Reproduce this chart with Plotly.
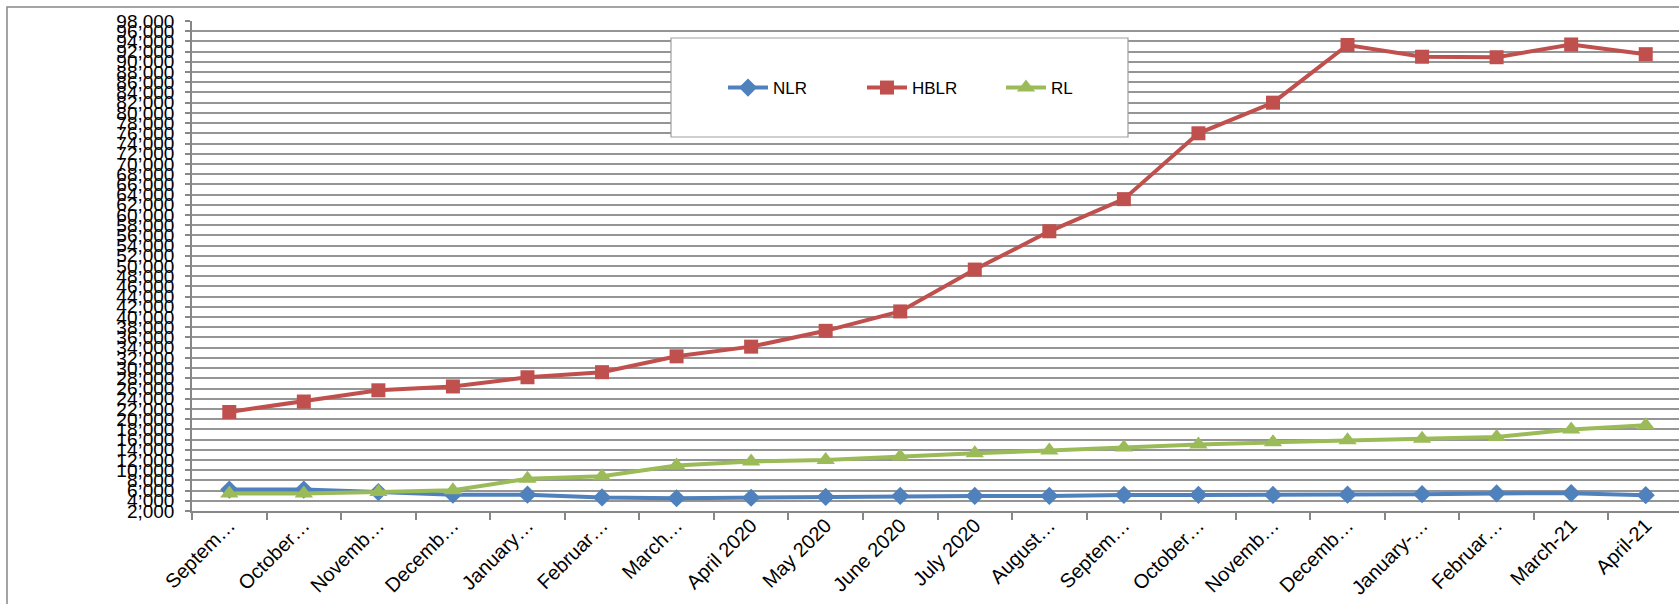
import plotly.graph_objects as go

categories = ["Septem\u2026", "October\u2026", "Novemb\u2026", "Decemb\u2026", "January\u2026",
              "Februar\u2026", "March\u2026", "April 2020", "May 2020", "June 2020",
              "July 2020", "August\u2026", "Septem\u2026", "October\u2026", "Novemb\u2026",
              "Decemb\u2026", "January-\u2026", "Februar\u2026", "March-21", "April-21"]

nlr = [6200, 6200, 5700, 5200, 5200, 4650, 4500, 4600, 4750, 4950,
       4950, 4950, 5150, 5150, 5150, 5200, 5300, 5450, 5500, 5100]
hblr = [21400, 23450, 25650, 26400, 28200, 29200, 32300, 34200, 37300, 41100,
        49300, 56800, 63100, 76000, 82000, 93300, 91000, 90900, 93400, 91500]
rl = [5450, 5450, 5700, 6050, 8300, 8800, 10900, 11700, 12000, 12700,
      13300, 13850, 14450, 15050, 15450, 15850, 16150, 16500, 17950, 18800]

y_ticks = list(range(2000, 98001, 2000))
xs = list(range(len(categories)))

W, H = 1679, 604
L, R, T, B = 192, 0, 21, 93
pw, ph = W - L - R, H - T - B

def px_x(p):
    return (p - L) / pw

def px_y(p):
    return (H - B - p) / ph

fig = go.Figure()
fig.add_trace(go.Scatter(x=xs, y=nlr, name="NLR", mode="lines+markers",
                         line=dict(color="#4F81BD", width=4),
                         marker=dict(symbol="diamond", size=14, color="#4F81BD")))
fig.add_trace(go.Scatter(x=xs, y=hblr, name="HBLR", mode="lines+markers",
                         line=dict(color="#C0504D", width=4),
                         marker=dict(symbol="square", size=14, color="#C0504D")))
fig.add_trace(go.Scatter(x=xs, y=rl, name="RL", mode="lines+markers",
                         line=dict(color="#9BBB59", width=4),
                         marker=dict(symbol="triangle-up", size=16, color="#9BBB59")))

# chart frame
fig.add_shape(type="rect", xref="paper", yref="paper",
              x0=px_x(7), x1=px_x(W + 20), y0=px_y(H + 20), y1=px_y(7),
              line=dict(color="#878787", width=1.5), fillcolor="rgba(0,0,0,0)",
              layer="below")
# legend box
fig.add_shape(type="rect", xref="paper", yref="paper",
              x0=px_x(671), x1=px_x(1128), y0=px_y(137), y1=px_y(38),
              line=dict(color="#A0A0A0", width=1.2), fillcolor="white",
              layer="above")

fig.update_layout(
    width=W, height=H,
    margin=dict(l=L, r=R, t=T, b=B),
    paper_bgcolor="white", plot_bgcolor="white",
    font=dict(family="Liberation Sans", size=17, color="black"),
    showlegend=True,
    legend=dict(orientation="h", x=px_x(723), y=px_y(88), xanchor="left", yanchor="middle",
                bgcolor="rgba(0,0,0,0)", borderwidth=0,
                font=dict(family="Liberation Sans", size=17, color="black"),
                entrywidth=84, entrywidthmode="pixels", itemwidth=40),
    xaxis=dict(range=[-0.5, -0.5 + pw / 74.55], tickmode="array", tickvals=xs,
               ticktext=categories, tickangle=-45, ticks="", showgrid=False,
               showline=True, linecolor="#878787", linewidth=1.5, zeroline=False,
               ticklabelstandoff=-7,
               tickfont=dict(family="Liberation Sans", size=20, color="black"),
               minor=dict(tick0=-0.5, dtick=1, ticks="outside", ticklen=7,
                          tickcolor="#878787", tickwidth=1.5, showgrid=False)),
    yaxis=dict(range=[2000, 98000], tickmode="array", tickvals=y_ticks,
               tickformat=",", ticks="outside", ticklen=5, tickcolor="#878787",
               tickwidth=1.5, showgrid=True, gridcolor="#959595", gridwidth=1.5,
               showline=True, linecolor="#878787", linewidth=1.5, zeroline=False,
               ticklabelstandoff=7,
               tickfont=dict(family="Liberation Sans", size=19, color="black")),
)

fig.write_html("out.html", config={"displayModeBar": False},
               post_script="document.body.style.margin='0';")
